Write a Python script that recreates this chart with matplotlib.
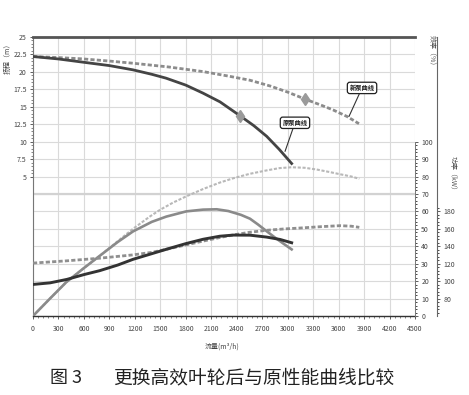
import numpy as np
import matplotlib
matplotlib.use("Agg")
import matplotlib.pyplot as plt
from matplotlib.ticker import MultipleLocator, FixedLocator

plt.rcParams['font.family'] = ['Noto Sans CJK SC', 'DejaVu Sans']

# ---- data (flow Q in m3/h) ----
# head curves (m)
q_head_new = [0, 300, 589, 900, 1178, 1600, 2003, 2300, 2556, 2800, 3000, 3204, 3400, 3534, 3700, 3840]
h_head_new = [22.2, 22.05, 21.86, 21.55, 21.24, 20.7, 20.04, 19.4, 18.8, 17.95, 17.1, 16.1, 15.2, 14.55, 13.6, 12.57]
q_head_old = [0, 300, 589, 900, 1178, 1400, 1567, 1800, 2003, 2203, 2438, 2600, 2753, 2900, 3047]
h_head_old = [22.2, 21.85, 21.39, 20.9, 20.29, 19.65, 19.1, 18.1, 16.95, 15.7, 13.71, 12.3, 10.76, 8.9, 6.86]
# efficiency curves (%)
q_eff_new = [0, 200, 392, 600, 786, 1000, 1178, 1375, 1500, 1649, 1800, 2003, 2200, 2360, 2550, 2753,
             2900, 3047, 3200, 3342, 3500, 3617, 3750, 3844]
e_eff_new = [0, 10, 19.4, 27.5, 34.5, 43, 50, 57, 61, 65, 68.5, 72.8, 76.5, 79, 81.5, 83.5,
             84.8, 85.3, 85, 84, 82.5, 81.3, 80, 78.7]
q_eff_old = [0, 200, 392, 600, 786, 1000, 1178, 1400, 1570, 1806, 2003, 2164, 2300, 2450, 2556,
             2650, 2753, 2850, 2950, 3047]
e_eff_old = [0, 10, 19.4, 27.5, 34.5, 42.5, 48.5, 54, 57, 60, 61, 61.2, 60.2, 58, 55.8,
             52.5, 48.6, 45, 41.5, 38.2]
# power curves (kW)
q_pow_old = [0, 200, 400, 600, 786, 1000, 1178, 1400, 1570, 1800, 2003, 2200, 2360, 2556, 2753, 2910, 3047]
p_pow_old = [96.2, 98, 102, 107.5, 112, 118.5, 125, 131.5, 136.5, 143, 148, 151.5, 152.8, 152.7, 150.5, 147.8, 144]
q_pow_new = [0, 400, 786, 1178, 1400, 1570, 1800, 2003, 2200, 2360, 2550, 2753, 2950, 3145, 3400, 3617, 3750, 3844]
p_pow_new = [120.7, 123.3, 126.3, 130.1, 133, 136.5, 141.5, 145.9, 150, 153, 156, 158.3, 159.8, 160.9, 162.5, 163.6, 163, 161.7]
# markers on head curves
mark_q = [3204, 2438]
mark_h = [16.1, 13.71]

x_ticks = list(range(0, 4501, 300))
h_ticks = [5, 7.5, 10, 12.5, 15, 17.5, 20, 22.5, 25]
h_tick_labels = ['5', '7.5', '10', '12.5', '15', '17.5', '20', '22.5', '25']
e_ticks = list(range(0, 101, 10))
p_ticks = list(range(80, 181, 20))

fig = plt.figure(figsize=(4.69, 3.95), dpi=100)
ax = fig.add_axes([33/469, 1-316/395, 382/469, 279/395])
ax.set_xlim(0, 4500)
ax.set_ylim(-15, 25)

grid_c = '#dadada'
for x in x_ticks:
    ax.axvline(x, color=grid_c, lw=0.8, zorder=0)
for h in np.arange(-15, 25.01, 2.5):
    ax.axhline(h, color=grid_c, lw=0.8, zorder=0)
ax.axhline(2.5, color='#d2d2d2', lw=1.6, zorder=0)

ax.spines['right'].set_visible(False)
ax.spines['top'].set_color('#555555')
ax.spines['top'].set_linewidth(2.0)
ax.spines['left'].set_color('#777777')
ax.spines['left'].set_linewidth(0.8)
ax.spines['bottom'].set_color('#333333')
ax.spines['bottom'].set_linewidth(1.0)

ax.set_xticks(x_ticks)
ax.set_xticklabels([str(v) for v in x_ticks])
ax.xaxis.set_minor_locator(MultipleLocator(60))
ax.set_yticks(h_ticks)
ax.set_yticklabels(h_tick_labels)
ax.yaxis.set_minor_locator(FixedLocator(np.arange(5, 25.01, 0.5)))
ax.tick_params(axis='both', labelsize=5, colors='#444444', length=2.5, width=0.6, pad=2)
ax.tick_params(axis='both', which='minor', length=1.5, width=0.5, colors='#555555')
ax.tick_params(axis='x', pad=4)

ax.set_xlabel('流量(m³/h)', fontsize=5, color='#444444')
ax.xaxis.set_label_coords(0.495, -0.095)
ax.set_ylabel('扬程（m）', fontsize=5, color='#444444')
ax.yaxis.set_label_coords(-0.055, 0.93)

# head curves
ax.plot(q_head_new, h_head_new, color='#8c8c8c', lw=2.0, ls=(0, (1.5, 0.8)), zorder=3)
ax.plot(q_head_old, h_head_old, color='#444444', lw=2.0, zorder=3)
ax.plot(mark_q, mark_h, ls='none', marker='d', markersize=6.5, color='#9a9a9a', zorder=4)

# efficiency axis
ax2 = ax.twinx()
ax2.set_ylim(0, 160)
for s in ['left', 'top', 'bottom']:
    ax2.spines[s].set_visible(False)
ax2.spines['right'].set_bounds(0, 100)
ax2.spines['right'].set_color('#777777')
ax2.spines['right'].set_linewidth(0.7)
ax2.set_yticks(e_ticks)
ax2.yaxis.set_minor_locator(FixedLocator(np.arange(0, 100.1, 2)))
ax2.tick_params(axis='y', labelsize=5, colors='#444444', length=2.5, width=0.6, pad=2)
ax2.tick_params(axis='y', which='minor', length=1.5, width=0.5)
ax2.plot(q_eff_new, e_eff_new, color='#b8b8b8', lw=1.5, ls=(0, (1.5, 0.8)), zorder=3)
ax2.plot(q_eff_old, e_eff_old, color='#8a8a8a', lw=1.9, zorder=3)

# power axis
ax3 = ax.twinx()
ax3.set_ylim(60, 380)
for s in ['left', 'top', 'bottom']:
    ax3.spines[s].set_visible(False)
ax3.spines['right'].set_position(('axes', 1 + 22/382))
ax3.spines['right'].set_color('#666666')
ax3.spines['right'].set_linewidth(0.8)
ax3.set_yticks(p_ticks)
ax3.yaxis.set_minor_locator(FixedLocator(np.arange(64, 184.1, 4)))
ax3.tick_params(axis='y', labelsize=5, colors='#444444', length=2.5, width=0.6, pad=2)
ax3.tick_params(axis='y', which='minor', length=1.5, width=0.5)
ax3.plot(q_pow_new, p_pow_new, color='#8f8f8f', lw=2.0, ls=(0, (1.5, 0.8)), zorder=3)
ax3.plot(q_pow_old, p_pow_old, color='#333333', lw=2.1, zorder=3)

fig.text(432/469, 1-52/395, '效率（%）', rotation=270, fontsize=5, color='#555555',
         ha='center', va='center')
fig.text(453/469, 1-175/395, '功率（kW）', rotation=270, fontsize=5, color='#555555',
         ha='center', va='center')

# curve labels
bbox = dict(boxstyle='round,pad=0.35,rounding_size=0.4', fc='white', ec='#222222', lw=0.9)
ax.annotate('新泵曲线', xy=(3722, 13.6), xytext=(3876, 17.7), fontsize=4.5,
            ha='center', va='center', bbox=bbox, color='#222222', fontweight='bold',
            arrowprops=dict(arrowstyle='-', color='#333333', lw=0.8, shrinkA=0, shrinkB=0))
ax.annotate('原泵曲线', xy=(2969, 8.6), xytext=(3086, 12.7), fontsize=4.5,
            ha='center', va='center', bbox=bbox, color='#222222', fontweight='bold',
            arrowprops=dict(arrowstyle='-', color='#333333', lw=0.8, shrinkA=0, shrinkB=0))

fig.text(50/469, 1-378/395, '图 3', fontsize=13, color='#222222', ha='left', va='center')
fig.text(113/469, 1-378/395, '更换高效叶轮后与原性能曲线比较', fontsize=13.5,
         color='#222222', ha='left', va='center')

fig.savefig('out.png', dpi=100)
